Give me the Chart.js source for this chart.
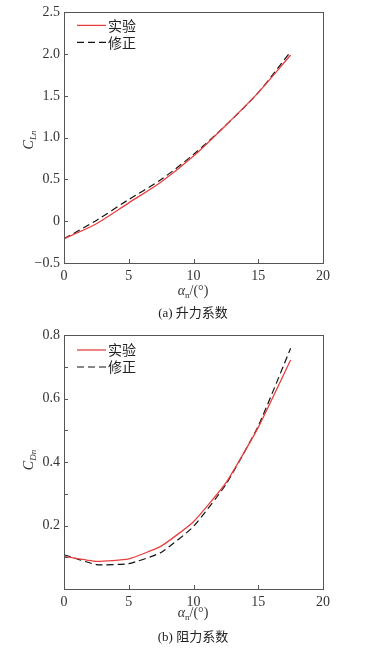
<!DOCTYPE html>
<html><head><meta charset="utf-8">
<script src="https://cdn.jsdelivr.net/npm/chart.js@4/dist/chart.umd.min.js"></script>
<style>
html,body{margin:0;padding:0;background:#fff;width:366px;height:649px;overflow:hidden;position:relative;}
.wrap{position:absolute;left:0;width:366px;}
canvas{display:block;}
.t{position:absolute;font-family:"Liberation Serif","Times New Roman",serif;color:#333;font-size:14px;white-space:nowrap;transform:translate(-50%,-50%);line-height:1;}
.t sub{font-size:9px;vertical-align:-3px;}
.rot{transform:translate(-50%,-50%) rotate(-90deg);}
.cap{font-family:"Liberation Serif","Noto Sans CJK SC",serif;font-size:13px;color:#222;}
.cap span{font-family:"Noto Sans CJK SC",sans-serif;}
</style></head><body>
<div class="wrap" style="top:0;height:320px"><canvas id="c1" width="366" height="320"></canvas></div>
<div class="wrap" style="top:320px;height:329px"><canvas id="c2" width="366" height="329"></canvas></div>

<div class="t rot" style="left:30px;top:140px;"><i>C</i><sub><i>Ln</i></sub></div>
<div class="t" style="left:193px;top:292px;"><i>α</i><sub>n</sub>/(°)</div>
<div class="t cap" style="left:193px;top:312px;">(a) <span>升力系数</span></div>

<div class="t rot" style="left:30px;top:460px;"><i>C</i><sub><i>Dn</i></sub></div>
<div class="t" style="left:193px;top:614px;"><i>α</i><sub>n</sub>/(°)</div>
<div class="t cap" style="left:193px;top:636px;">(b) <span>阻力系数</span></div>

<script>
const angles = [0, 2.5, 5, 7.5, 10, 12.5, 15, 17.5];
const liftExp = [-0.21, -0.03, 0.22, 0.47, 0.78, 1.15, 1.54, 1.99];
const liftCorr = [-0.21, 0.01, 0.26, 0.50, 0.80, 1.15, 1.54, 2.03];
const dragExp = [0.103, 0.087, 0.095, 0.135, 0.212, 0.334, 0.509, 0.721];
const dragCorr = [0.108, 0.077, 0.080, 0.115, 0.197, 0.329, 0.513, 0.758];
const seriesNames = ['实验', '修正'];
const liftTicks = [-0.5, 0, 0.5, 1.0, 1.5, 2.0, 2.5];
const dragTicks = [0.2, 0.4, 0.6, 0.8];

const RED = 'rgb(232,64,64)';
const BLACK = '#111';
const AXIS = '#555';

const framePlugin = {
  id: 'frame',
  afterDraw(chart, args, opts) {
    const ctx = chart.ctx, a = chart.chartArea;
    ctx.save();
    ctx.strokeStyle = AXIS;
    ctx.lineWidth = 1;
    ctx.strokeRect(Math.round(a.left) + 0.5, Math.round(a.top) + 0.5,
                   Math.round(a.right - a.left), Math.round(a.bottom - a.top));
    const xs = chart.scales.x, ys = chart.scales.y;
    ctx.beginPath();
    xs.ticks.forEach(t => {
      const px = Math.round(xs.getPixelForValue(t.value)) + 0.5;
      ctx.moveTo(px, a.bottom); ctx.lineTo(px, a.bottom - 4);
    });
    ys.ticks.forEach(t => {
      const py = Math.round(ys.getPixelForValue(t.value)) + 0.5;
      ctx.moveTo(a.left, py); ctx.lineTo(a.left + 4, py);
    });
    ctx.stroke();
    const lx = a.left + 13, ly = a.top + opts.dy;
    chart.data.datasets.forEach((ds, i) => {
      const y = ly + i * 17;
      ctx.beginPath();
      ctx.strokeStyle = ds.borderColor;
      ctx.lineWidth = ds.borderWidth;
      ctx.setLineDash(ds.borderDash || []);
      ctx.moveTo(lx, y); ctx.lineTo(lx + 29, y);
      ctx.stroke();
      ctx.setLineDash([]);
      ctx.fillStyle = '#222';
      ctx.font = '14px "Noto Sans CJK SC", sans-serif';
      ctx.textBaseline = 'middle';
      ctx.fillText(ds.label, lx + 31, y);
    });
    ctx.restore();
  }
};

function makeChart(id, yA, yB, ymin, ymax, step, labelFn, tension, pad, legendDy) {
  return new Chart(document.getElementById(id), {
    type: 'line',
    data: {
      labels: angles,
      datasets: [
        { label: seriesNames[0], data: angles.map((x, i) => ({x, y: yA[i]})),
          borderColor: RED, borderWidth: 1.3, pointRadius: 0, tension, fill: false },
        { label: seriesNames[1], data: angles.map((x, i) => ({x, y: yB[i]})),
          borderColor: BLACK, borderWidth: 1.2, borderDash: [7, 4], pointRadius: 0, tension, fill: false }
      ]
    },
    options: {
      responsive: false, animation: false,
      layout: { padding: pad },
      plugins: { legend: { display: false }, tooltip: { enabled: false }, frame: { dy: legendDy } },
      scales: {
        x: {
          type: 'linear', min: 0, max: 20,
          ticks: { stepSize: 5, padding: 5, color: '#333', maxRotation: 0,
                   font: { family: '"Liberation Serif", serif', size: 14 } },
          grid: { display: false, drawTicks: false }, border: { display: false },
          afterFit(s) { s.height = 20; }
        },
        y: {
          type: 'linear', min: ymin, max: ymax,
          ticks: { stepSize: step, padding: 4, color: '#333', callback: labelFn, autoSkip: false,
                   font: { family: '"Liberation Serif", serif', size: 14 } },
          grid: { display: false, drawTicks: false }, border: { display: false },
          afterFit(s) { s.width = 64; }
        }
      }
    },
    plugins: [framePlugin]
  });
}

makeChart('c1', liftExp, liftCorr, -0.5, 2.5, 0.5,
  v => { const m = liftTicks.find(t => Math.abs(t - v) < 1e-6); if (m === undefined) return ''; return m === 0 ? '0' : (m < 0 ? '\u2212' + Math.abs(m).toFixed(1) : m.toFixed(1)); },
  0.3, { left: 0, right: 43, top: 12, bottom: 320 - 263 - 20 }, 13);

makeChart('c2', dragExp, dragCorr, 0, 0.8, 0.1,
  v => { const m = dragTicks.find(t => Math.abs(t - v) < 1e-6); return m === undefined ? '' : m.toFixed(1); },
  0.15, { left: 0, right: 43, top: 15, bottom: 329 - 269 - 20 }, 15);
</script>
</body></html>
